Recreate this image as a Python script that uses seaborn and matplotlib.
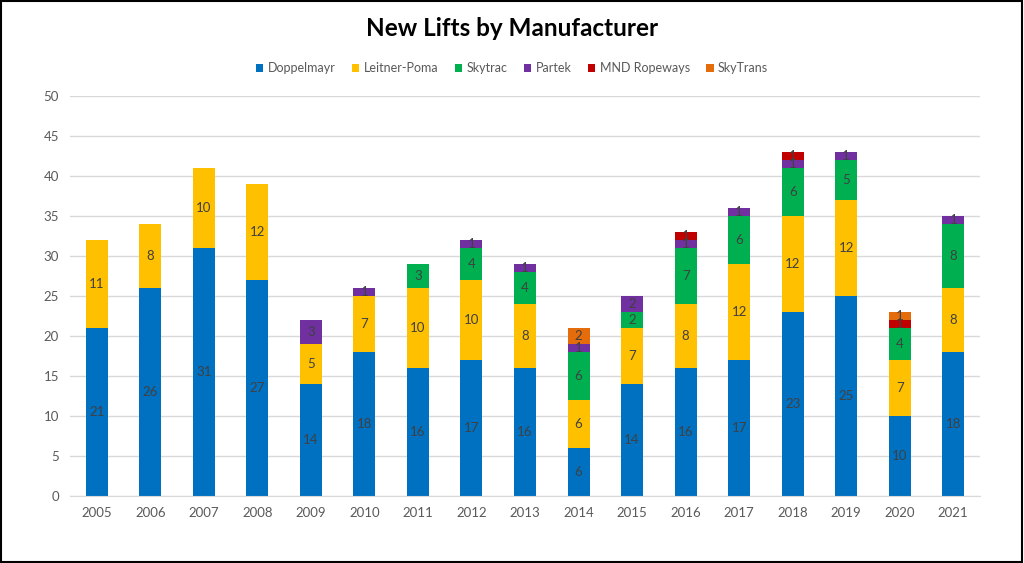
import numpy as np
import pandas as pd
import matplotlib
matplotlib.use("Agg")
import matplotlib.pyplot as plt
import seaborn as sns
from matplotlib.patches import Patch

years = [str(y) for y in range(2005, 2022)]
doppelmayr = [21, 26, 31, 27, 14, 18, 16, 17, 16, 6, 14, 16, 17, 23, 25, 10, 18]
leitner_poma = [11, 8, 10, 12, 5, 7, 10, 10, 8, 6, 7, 8, 12, 12, 12, 7, 8]
skytrac = [0, 0, 0, 0, 0, 0, 3, 4, 4, 6, 2, 7, 6, 6, 5, 4, 8]
partek = [0, 0, 0, 0, 3, 1, 0, 1, 1, 1, 2, 1, 1, 1, 1, 0, 1]
mnd_ropeways = [0, 0, 0, 0, 0, 0, 0, 0, 0, 0, 0, 1, 0, 1, 0, 1, 0]
skytrans = [0, 0, 0, 0, 0, 0, 0, 0, 0, 2, 0, 0, 0, 0, 0, 1, 0]

makers = ["Doppelmayr", "Leitner-Poma", "Skytrac", "Partek", "MND Ropeways", "SkyTrans"]
colors = ["#0070C0", "#FFC000", "#00B050", "#7030A0", "#C00000", "#E46C0A"]

df = pd.DataFrame({"year": years, "Doppelmayr": doppelmayr, "Leitner-Poma": leitner_poma,
                   "Skytrac": skytrac, "Partek": partek, "MND Ropeways": mnd_ropeways,
                   "SkyTrans": skytrans})
cum = df[makers].cumsum(axis=1)

plt.rcParams['font.family'] = ['Lato', 'DejaVu Sans']

fig = plt.figure(figsize=(10.24, 5.63), dpi=100)
ax = fig.add_axes([70 / 1024, 67 / 563, 910 / 1024, 400 / 563])

# stacked bars: draw cumulative totals from the top series down
for m, c in reversed(list(zip(makers, colors))):
    sns.barplot(x=df["year"], y=cum[m], color=c, width=0.41, ax=ax,
                saturation=1, edgecolor="none", linewidth=0)

# segment labels
for i, y in enumerate(years):
    base = 0
    for m in makers:
        v = df.loc[i, m]
        if v > 0:
            ax.text(i, base + v / 2, str(v), ha="center", va="center",
                    fontsize=9.5, color="#404040")
        base += v

ax.set_ylim(0, 50)
ax.set_xlim(-0.5, len(years) - 0.5)
ax.set_yticks(range(0, 51, 5))
ax.yaxis.grid(True, color="#D9D9D9", linewidth=1)
ax.set_axisbelow(True)
for s in ["left", "right", "top"]:
    ax.spines[s].set_visible(False)
ax.spines["bottom"].set_color("#D9D9D9")
ax.tick_params(axis="both", length=0, labelsize=9.5, labelcolor="#595959", pad=8)
ax.set_xlabel("")
ax.set_ylabel("")

fig.text(0.5, (563 - 28) / 563, "New Lifts by Manufacturer", ha="center", va="center",
         fontsize=17.5, fontweight="bold", color="black")

handles = [Patch(facecolor=c, edgecolor="none", label=m) for m, c in zip(makers, colors)]
fig.legend(handles=handles, loc="center", bbox_to_anchor=(0.5, (563 - 68) / 563), ncol=6,
           frameon=False, fontsize=9, handlelength=0.6, handleheight=0.6,
           handletextpad=0.35, columnspacing=1.3, labelcolor="#595959")

fig.patches.append(plt.Rectangle((0.001, 0.002), 0.997, 0.996, transform=fig.transFigure,
                                 fill=False, edgecolor="black", linewidth=1.5))

plt.savefig("out.png", dpi=100)
